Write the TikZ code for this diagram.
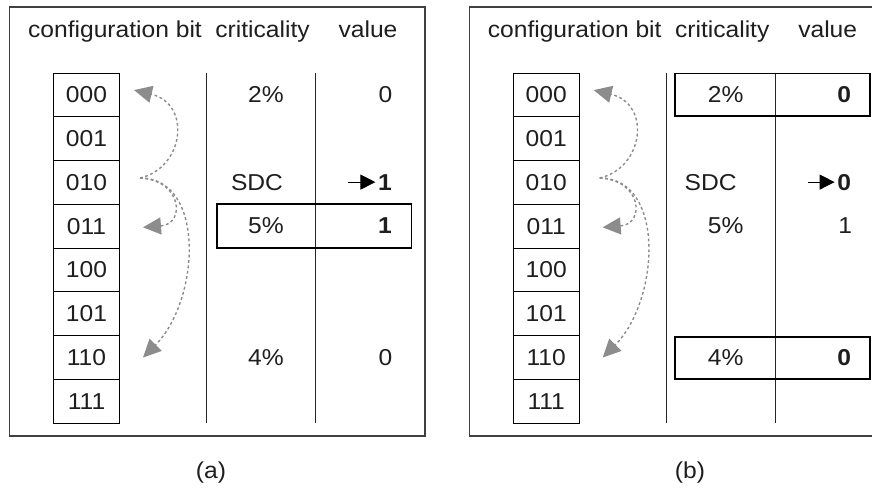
\documentclass[tikz,border=0pt]{standalone}
\usepackage{fontspec}
\setmainfont{Liberation Sans}[FakeStretch=1.07]
\usetikzlibrary{arrows.meta,calc}
\definecolor{flipgray}{HTML}{8C8C8C}
\definecolor{framegray}{HTML}{404040}
\definecolor{inkgray}{HTML}{1E1E1E}
\begin{document}
\begin{tikzpicture}[x=1pt,y=-1pt,
  font=\fontsize{23}{27}\selectfont,
  bitcell/.style={draw=black, line width=1pt, minimum width=66pt,
    minimum height=43.75pt, inner sep=0pt, anchor=north west, text=inkgray},
  frame/.style={draw=framegray, line width=1.1pt},
  colline/.style={draw=black!85, line width=1pt},
  hibox/.style={draw=black, line width=1.8pt},
  txt/.style={inner sep=0pt, anchor=base, text=inkgray},
  val/.style={inner sep=0pt, anchor=base east, text=inkgray},
  flip/.style={draw=flipgray, line width=1.4pt, dash pattern=on 2.8pt off 2.6pt,
    -{Triangle[length=18pt,width=17pt,fill=flipgray]}},
  sdcarrow/.style={draw=black, line width=0.9pt,
    -{Triangle[length=15pt,width=15pt]}, shorten >=2.5pt}
]
\useasboundingbox (0,0) rectangle (872,490);
\clip (0,0) rectangle (872,490);

% ---------- common structure of both panels ----------
\foreach \p/\dx in {a/0, b/459.7} {
  \begin{scope}[xshift=\dx]
    \draw[frame] (9.5,7) rectangle (425,436);
    \node[txt] (hdrbit-\p)  at (115,37)   {configuration bit};
    \node[txt] (hdrcrit-\p) at (262.5,37) {criticality};
    \node[txt] (hdrval-\p)  at (368,37)   {value};
    \foreach \i/\b in {0/000,1/001,2/010,3/011,4/100,5/101,6/110,7/111}
      \node[bitcell] (bit-\p-\i) at (53,{72.7+43.75*\i}) {\b};
    \draw[colline] (206.7,72.7) -- (206.7,422.7);
    \draw[colline] (315.7,72.7) -- (315.7,422.7);
    % neighbouring configurations reached by a single bit flip of 010
    \coordinate (src-\p) at (140,178);
    \coordinate (tip0-\p) at ($(bit-\p-0.east)+(14,-5)$);
    \coordinate (tip3-\p) at ($(bit-\p-3.east)+(23,1)$);
    \coordinate (tip6-\p) at ($(bit-\p-6.east)+(23,0)$);
    \draw[flip] (src-\p) .. controls (184,168) and (192,104) .. (tip0-\p);
    \draw[flip] (src-\p) .. controls (182,180) and (186,224) .. (tip3-\p);
    \draw[flip] (src-\p) .. controls (206,178) and (200,300) .. (tip6-\p);
  \end{scope}
}

% ---------- panel (a) ----------
\node[txt] (crit-a-0) at (266,102.6) {2\%};
\node[txt] (crit-a-2) at (257,190.1) {SDC};
\node[txt] (crit-a-3) at (266,233.8) {5\%};
\node[txt] (crit-a-6) at (266,365.1) {4\%};
\node[val] (val-a-0) at (392.5,102.6) {0};
\node[val] (val-a-2) at (392,190.1) {\textbf{1}};
\node[val] (val-a-3) at (392,233.8) {\textbf{1}};
\node[val] (val-a-6) at (392.5,365.1) {0};
\coordinate (sdc-a) at (348,182.1);
\draw[sdcarrow] (sdc-a) -- (val-a-2.west |- sdc-a);
\draw[hibox] (217,204.3) rectangle (411.5,247.7);
\node[txt] (cap-a) at (211,478) {(a)};

% ---------- panel (b) ----------
\begin{scope}[xshift=459.7]
  \node[txt] (crit-b-0) at (266,102.6) {2\%};
  \node[txt] (crit-b-2) at (251,190.1) {SDC};
  \node[txt] (crit-b-3) at (266,233.8) {5\%};
  \node[txt] (crit-b-6) at (266,365.1) {4\%};
  \node[val] (val-b-0) at (391.5,102.6) {\textbf{0}};
  \node[val] (val-b-2) at (391.5,190.1) {\textbf{0}};
  \node[val] (val-b-3) at (392.5,233.8) {1};
  \node[val] (val-b-6) at (391.5,365.1) {\textbf{0}};
  \coordinate (sdc-b) at (348.6,182.1);
  \draw[sdcarrow] (sdc-b) -- (val-b-2.west |- sdc-b);
  \draw[hibox] (215.3,73.5) rectangle (410.3,115.7);
  \draw[hibox] (215.3,337.3) rectangle (410.3,379.3);
\end{scope}
\node[txt] (cap-b) at (690,478) {(b)};
\end{tikzpicture}
\end{document}
